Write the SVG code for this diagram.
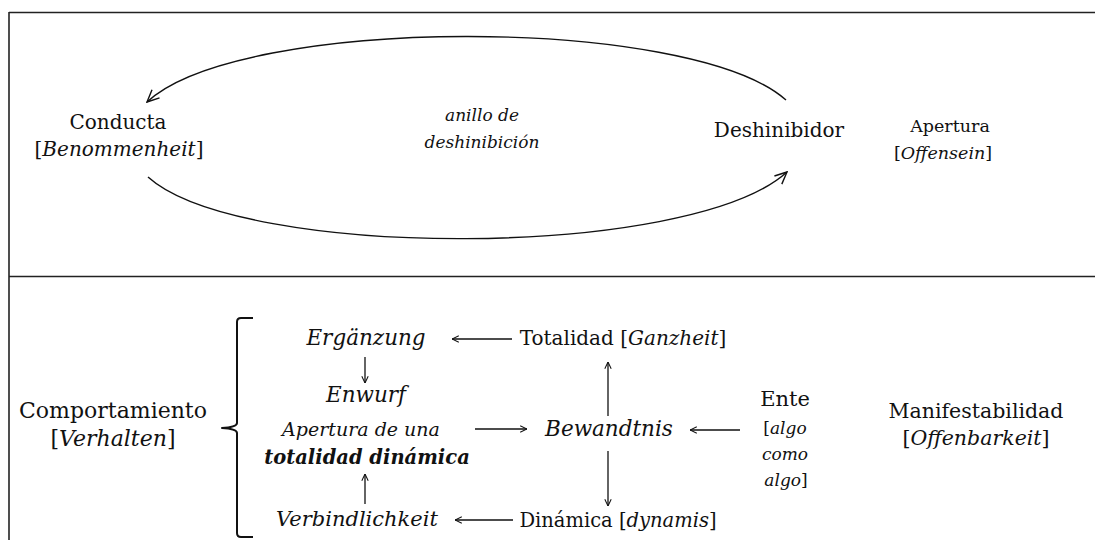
<svg xmlns="http://www.w3.org/2000/svg" width="1095" height="540" viewBox="0 0 1095 540">
  <style>
    text { font-family: "DejaVu Serif", "Liberation Serif", serif; fill: #111; text-anchor: middle; }
    .it { font-style: italic; }
    .bi { font-style: italic; font-weight: bold; }
    .frame { stroke: #222; stroke-width: 1.6; fill: none; }
    .link { stroke: #111; stroke-width: 1.3; fill: none; }
    .loop { stroke: #111; stroke-width: 1.4; fill: none; }
    .brace { stroke: #111; stroke-width: 2; fill: none; stroke-linejoin: round; }
  </style>
  <defs>
    <marker id="head" viewBox="0 0 10 10" refX="9.5" refY="5" markerWidth="8" markerHeight="8" markerUnits="userSpaceOnUse" orient="auto">
      <path d="M1,1 L9.5,5 L1,9" fill="none" stroke="#111" stroke-width="1.3"/>
    </marker>
    <marker id="bighead" viewBox="0 0 14 14" refX="13" refY="7" markerWidth="14" markerHeight="14" markerUnits="userSpaceOnUse" orient="auto">
      <path d="M1,1.5 L13,7 L1,12.5" fill="none" stroke="#111" stroke-width="1.4"/>
    </marker>
  </defs>

  <rect width="1095" height="540" fill="#fff"/>

  <!-- frame: top edge, left edge, divider between the two panels -->
  <g id="frame">
    <line class="frame" x1="9" y1="12.5" x2="1095" y2="12.5"/>
    <line class="frame" x1="9" y1="12" x2="9" y2="540"/>
    <line class="frame" x1="9" y1="276.5" x2="1095" y2="276.5"/>
  </g>

  <!-- upper panel -->
  <g id="conducta">
    <text x="118" y="129" font-size="20">Conducta</text>
    <text x="119" y="156" font-size="20">[<tspan class="it">Benommenheit</tspan>]</text>
  </g>
  <g id="anillo">
    <text class="it" x="482" y="121" font-size="17">anillo de</text>
    <text class="it" x="482" y="148" font-size="17">deshinibición</text>
  </g>
  <g id="deshinibidor">
    <text x="779" y="137" font-size="20">Deshinibidor</text>
  </g>
  <g id="apertura">
    <text x="950" y="132" font-size="17.5">Apertura</text>
    <text x="943" y="159" font-size="17.5">[<tspan class="it">Offensein</tspan>]</text>
  </g>

  <!-- lower panel -->
  <g id="comportamiento">
    <text x="113" y="418" font-size="22">Comportamiento</text>
    <text x="113" y="446" font-size="22">[<tspan class="it">Verhalten</tspan>]</text>
  </g>
  <g id="llave">
    <path class="brace" d="M253,318 L241,318 Q237,318 237,322 L237,423 Q237,427 222,428 Q237,429 237,433 L237,533 Q237,537 241,537 L253,537"/>
  </g>
  <g id="erganzung">
    <text class="it" x="366" y="345" font-size="21.5">Ergänzung</text>
  </g>
  <g id="enwurf">
    <text class="it" x="366" y="402" font-size="21.5">Enwurf</text>
    <text class="it" x="361" y="436" font-size="19">Apertura de una</text>
    <text class="bi" x="367" y="464" font-size="19.5">totalidad dinámica</text>
  </g>
  <g id="verbindlichkeit">
    <text class="it" x="357" y="526" font-size="21">Verbindlichkeit</text>
  </g>
  <g id="totalidad">
    <text x="623" y="345" font-size="20">Totalidad [<tspan class="it">Ganzheit</tspan>]</text>
  </g>
  <g id="bewandtnis">
    <text class="it" x="609" y="436" font-size="21.5">Bewandtnis</text>
  </g>
  <g id="dinamica">
    <text x="618" y="527" font-size="19.5">Dinámica [<tspan class="it">dynamis</tspan>]</text>
  </g>
  <g id="ente">
    <text x="785" y="406" font-size="21">Ente</text>
    <text x="785" y="434" font-size="17">[<tspan class="it">algo</tspan></text>
    <text class="it" x="785" y="460" font-size="17">como</text>
    <text x="786" y="486" font-size="17"><tspan class="it">algo</tspan>]</text>
  </g>
  <g id="manifestabilidad">
    <text x="976" y="418" font-size="20.5">Manifestabilidad</text>
    <text x="976" y="445" font-size="20.5">[<tspan class="it">Offenbarkeit</tspan>]</text>
  </g>

  <!-- connectors -->
  <g id="connectors">
    <path class="loop" d="M786,100 C690,15 240,15 147,102" marker-end="url(#bighead)"/>
    <path class="loop" d="M148,177 C240,260 690,260 787,172" marker-end="url(#bighead)"/>
    <line class="link" x1="512" y1="339" x2="452" y2="339" marker-end="url(#head)"/>
    <line class="link" x1="365" y1="357" x2="365" y2="383" marker-end="url(#head)"/>
    <line class="link" x1="365" y1="504" x2="365" y2="474" marker-end="url(#head)"/>
    <line class="link" x1="513" y1="520" x2="455" y2="520" marker-end="url(#head)"/>
    <line class="link" x1="475" y1="429" x2="527" y2="429" marker-end="url(#head)"/>
    <line class="link" x1="740" y1="430" x2="690" y2="430" marker-end="url(#head)"/>
    <line class="link" x1="608" y1="416" x2="608" y2="362" marker-end="url(#head)"/>
    <line class="link" x1="608" y1="451" x2="608" y2="506" marker-end="url(#head)"/>
  </g>
</svg>
